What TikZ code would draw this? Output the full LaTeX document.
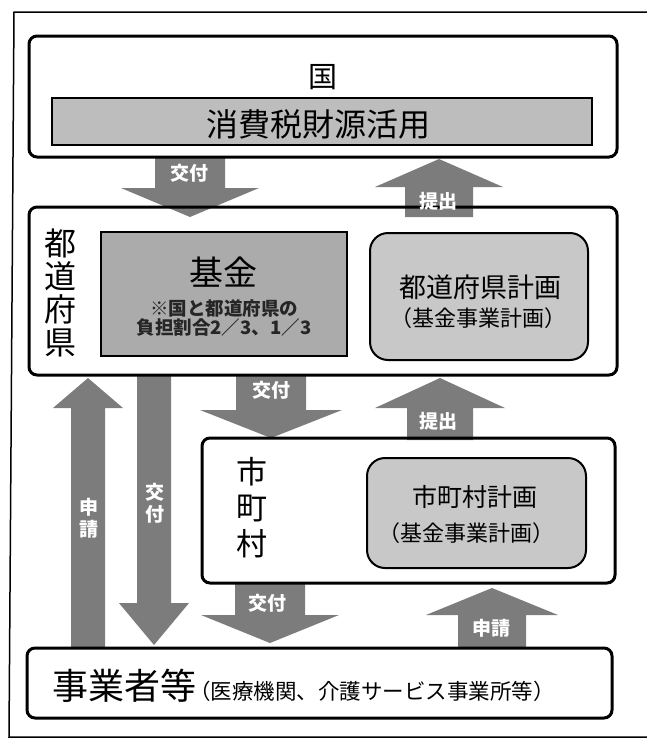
\documentclass[tikz,border=0pt]{standalone}
\usepackage{fontspec}
\setmainfont{Noto Sans CJK JP}
\usetikzlibrary{calc}
\pgfdeclarelayer{background}
\pgfsetlayers{background,main}
\definecolor{arrowgray}{HTML}{7C7C7C}
\definecolor{fundgray}{HTML}{ABABAB}
\definecolor{plangray}{HTML}{C8C8C8}
\definecolor{bargray}{HTML}{BDBDBD}
\tikzset{
  bigbox/.style={draw, line width=3pt, rounded corners=8pt, inner sep=0pt, outer sep=0pt},
  fundbox/.style={draw, fill=fundgray, line width=2pt, inner sep=0pt, outer sep=0pt},
  planbox/.style={draw, fill=plangray, line width=2pt, rounded corners=18pt, inner sep=0pt, outer sep=0pt},
  barbox/.style={draw, fill=bargray, line width=2pt, inner sep=0pt, outer sep=0pt},
  arrowfill/.style={fill=arrowgray},
  albl/.style={text=white, font=\bfseries\fontsize{19}{22}\selectfont, inner sep=0pt, align=center},
  txt/.style={inner sep=0pt},
}
% #1 from, #2 to, #3 shaft half width, #4 head half width, #5 head length
\newcommand\blockarrow[5]{%
  \fill[arrowfill] let \p1=#1, \p2=#2, \n1={ifthenelse(\y2>\y1,1,-1)} in
    ({\x1-#3pt},\y1) -- ({\x1-#3pt},{\y2-(\n1)*#5pt}) -- ({\x1-#4pt},{\y2-(\n1)*#5pt})
    -- (\x1,\y2) -- ({\x1+#4pt},{\y2-(\n1)*#5pt}) -- ({\x1+#3pt},{\y2-(\n1)*#5pt})
    -- ({\x1+#3pt},\y1) -- cycle;}
\begin{document}
\begin{tikzpicture}[x=1pt,y=-1pt]
\useasboundingbox (0,0) rectangle (647,742);
% outer frame
\draw[line width=1.5pt] (652,12) -- (14,12) -- (9,737) -- (652,737);

% national level
\node[bigbox, minimum width=588pt, minimum height=121pt] (kuni) at (323,96.5) {};
\node[txt, font=\fontsize{29}{29}\selectfont] (kunitxt) at (323,77) {国};
\node[barbox, minimum width=540pt, minimum height=47pt] (bar) at (322,121.5) {};
\node[txt, font=\fontsize{32}{32}\selectfont] (bartxt) at (318,124) {消費税財源活用};

% prefecture level
\node[bigbox, minimum width=588pt, minimum height=168pt] (pref) at (323,291) {};
\node[txt, align=center, font=\fontsize{32}{33}\selectfont] (preftxt) at (60,293) {都\\道\\府\\県};
\node[fundbox, minimum width=246pt, minimum height=124pt] (kikin) at (224,294) {};
\node[txt, font=\fontsize{34}{34}\selectfont] (kikintxt) at (223,272) {基金};
\node[txt, align=center, text=black!85, font=\bfseries\fontsize{18.5}{19.5}\selectfont] (kikinnote) at (224,318) {※国と都道府県の\\負担割合2／3、1／3};
\node[planbox, minimum width=218pt, minimum height=127pt] (prefplan) at (479,296.5) {};
\node[txt, font=\fontsize{27}{27}\selectfont] (prefplantxt) at (480,287) {都道府県計画};
\node[txt, font=\fontsize{22}{22}\selectfont] (prefplansub) at (478,318) {（基金事業計画）};

% municipal level
\node[bigbox, minimum width=413pt, minimum height=145pt] (muni) at (408.5,510.5) {};
\node[txt, align=center, font=\fontsize{31}{36}\selectfont] (munitxt) at (252,508) {市\\町\\村};
\node[planbox, minimum width=219pt, minimum height=110pt] (muniplan) at (476.5,513) {};
\node[txt, font=\fontsize{25}{25}\selectfont] (muniplantxt) at (475,497) {市町村計画};
\node[txt, font=\fontsize{22}{22}\selectfont] (muniplansub) at (466,533) {（基金事業計画）};

% providers
\node[bigbox, minimum width=585pt, minimum height=70pt] (biz) at (319.5,683) {};
\node[txt, anchor=west] (biztxt) at (52,686) {\fontsize{36}{36}\selectfont 事業者等\fontsize{21.5}{22}\selectfont\hspace{-7pt}（医療機関、介護サービス事業所等）};

% block arrows
\begin{pgfonlayer}{background}
\blockarrow{($(kuni.south west)+(161,0)$)}{($(pref.north west)+(161,10)$)}{35}{69}{29}
\blockarrow{($(pref.north west)+(410,10)$)}{($(kuni.south west)+(410,2)$)}{34}{64}{28}
\blockarrow{($(biz.north west)+(61,0)$)}{($(pref.south west)+(59,3)$)}{17}{35}{30}
\blockarrow{($(pref.south west)+(125,0)$)}{($(biz.north west)+(127,-3)$)}{17}{35}{42}
\blockarrow{($(pref.south west)+(242,0)$)}{($(muni.north west)+(69,0)$)}{35}{71}{28}
\blockarrow{($(muni.north west)+(238,2)$)}{($(pref.south west)+(411,3)$)}{33}{65}{30}
\blockarrow{($(muni.south west)+(68,0)$)}{($(biz.north west)+(243,-5)$)}{35}{69}{28}
\blockarrow{($(biz.north west)+(465,0)$)}{($(muni.south west)+(290,5)$)}{34}{66}{27}
\end{pgfonlayer}

% arrow labels
\node[albl] (l1) at (189,173) {交付};
\node[albl] (l2) at (438,201) {提出};
\node[albl] (l3) at (89,518) {申\\請};
\node[albl] (l4) at (155,503) {交\\付};
\node[albl] (l5) at (271,390) {交付};
\node[albl] (l6) at (438,421) {提出};
\node[albl] (l7) at (267,603) {交付};
\node[albl] (l8) at (491,628) {申請};
\end{tikzpicture}
\end{document}
